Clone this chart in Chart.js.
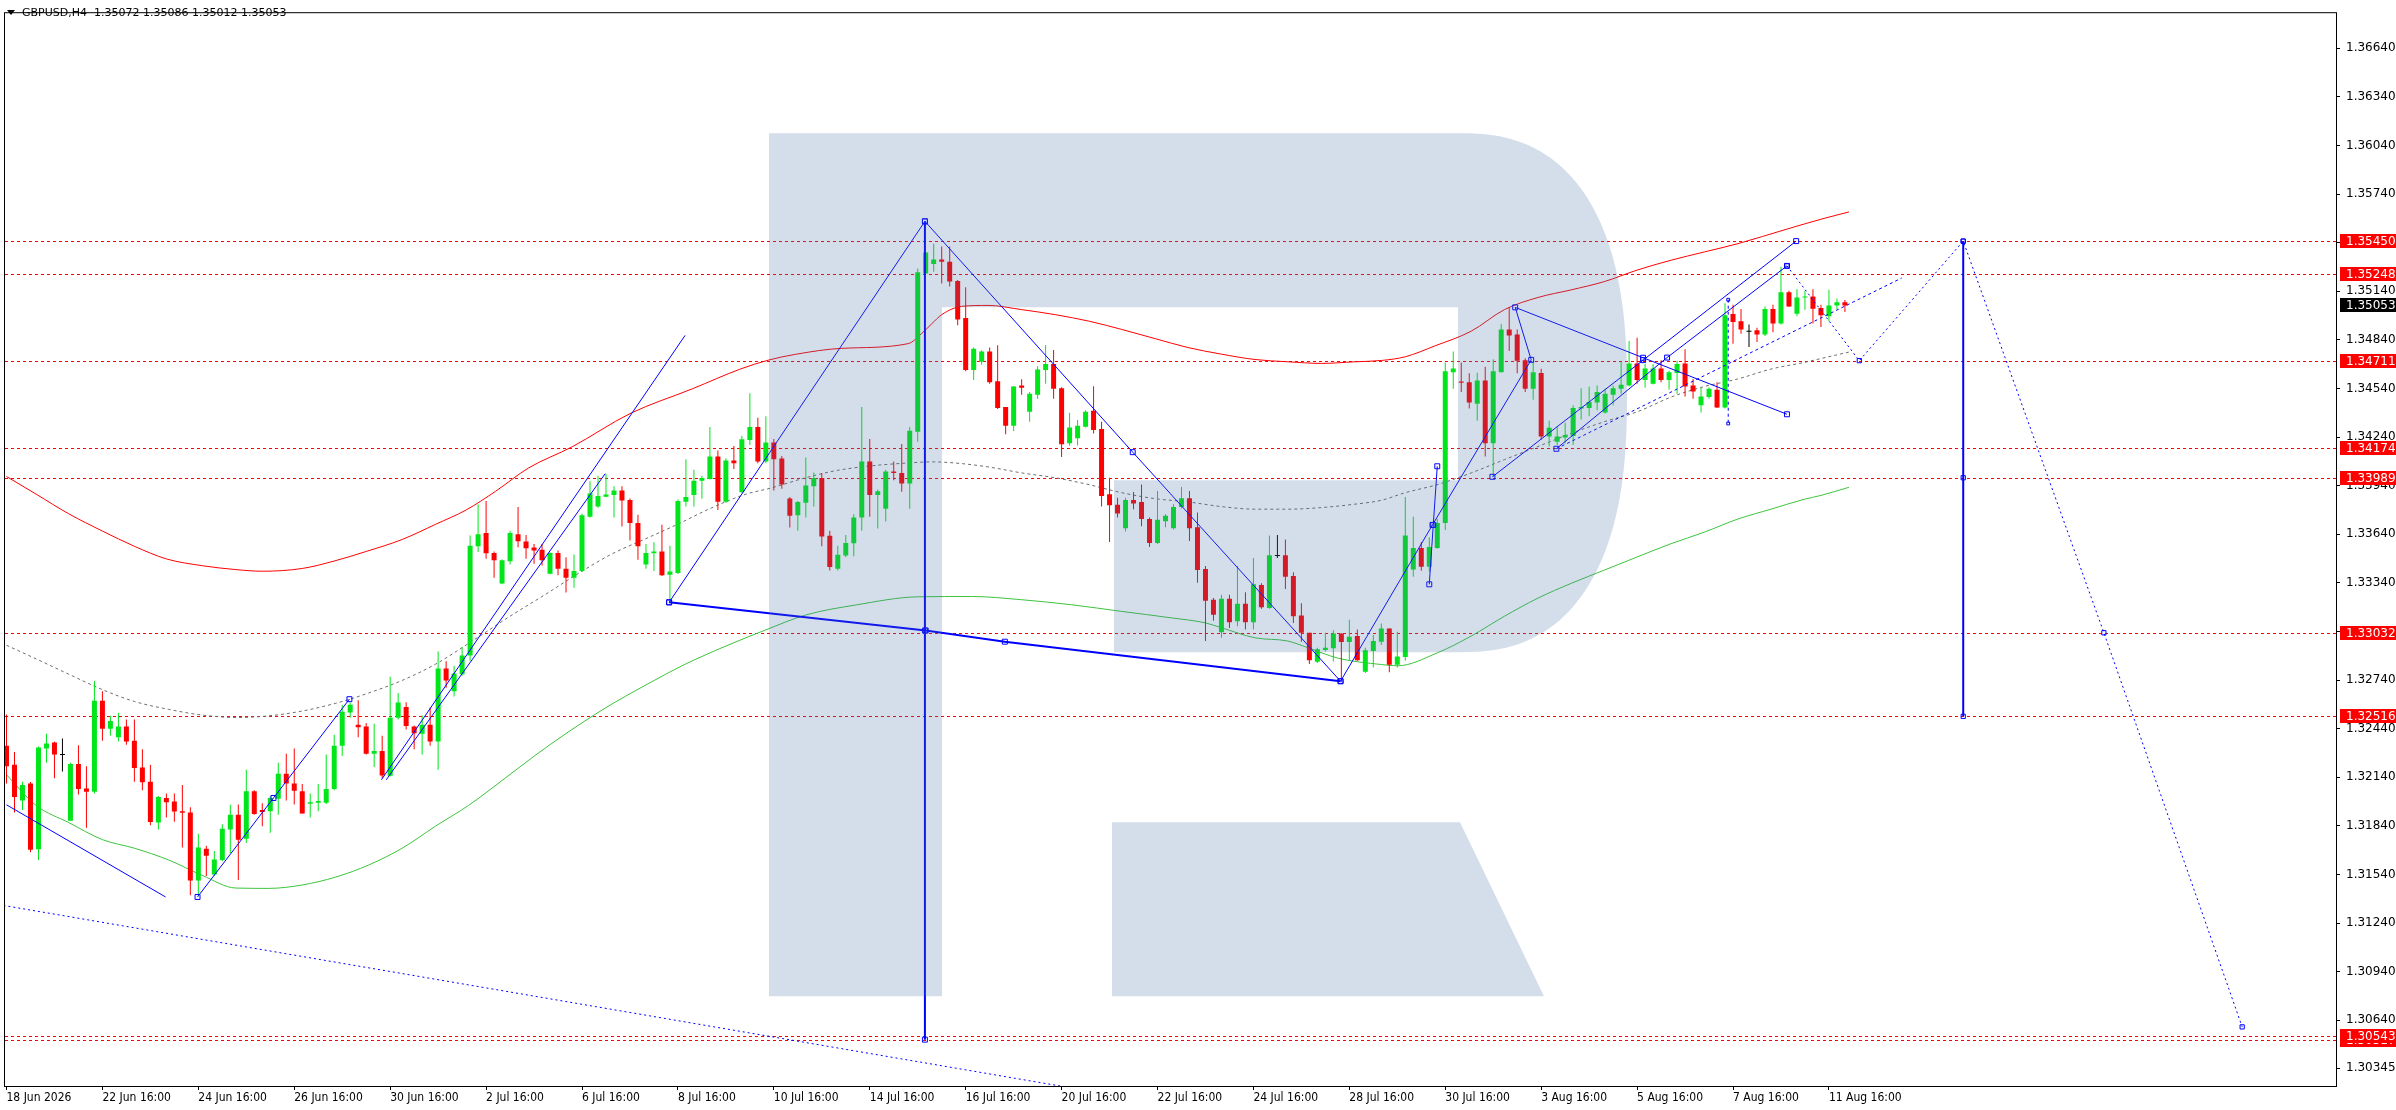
<!DOCTYPE html>
<html>
<head>
<meta charset="utf-8">
<script src="https://cdn.jsdelivr.net/npm/chart.js@4.4.1/dist/chart.umd.min.js"></script>
<style>
  html, body { margin: 0; padding: 0; background: #fff; }
  #wrap { position: relative; width: 2396px; height: 1110px; }
  #hdr { position: absolute; left: 22px; top: 6px; font: 11px "DejaVu Sans", sans-serif; color: #000; white-space: pre; line-height: 13px; }
  #tri { position: absolute; left: 7px; top: 10px; width: 0; height: 0; border-left: 4px solid transparent; border-right: 4px solid transparent; border-top: 5px solid #000; }
</style>
</head>
<body>
<div id="wrap">
  <canvas id="chart" width="2396" height="1110"></canvas>
  <div id="tri"></div>
  <div id="hdr">GBPUSD,H4  1.35072 1.35086 1.35012 1.35053</div>
</div>
<script>
// GBPUSD H4, bar 0 = 18 Jun 16:00
const opens = [
  1.32334, 1.32218, 1.31997, 1.32102, 1.31696, 1.32317, 1.32355, 1.32277, 1.31871, 1.32222,
  1.32071, 1.32050, 1.32612, 1.32439, 1.32387, 1.32454, 1.32366, 1.32201, 1.32113, 1.31860,
  1.32012, 1.31991, 1.31930, 1.31923, 1.31502, 1.31698, 1.31540, 1.31629, 1.31818, 1.31909,
  1.31761, 1.32054, 1.31938, 1.31930, 1.32008, 1.32161, 1.32102, 1.32054, 1.31976, 1.31982,
  1.31982, 1.32067, 1.32334, 1.32540, 1.32464, 1.32454, 1.32285, 1.32302, 1.32149, 1.32507,
  1.32574, 1.32454, 1.32408, 1.32464, 1.32361, 1.32812, 1.32671, 1.32776, 1.32892, 1.33566,
  1.33648, 1.33525, 1.33336, 1.33474, 1.33641, 1.33595, 1.33558, 1.33544, 1.33397, 1.33525,
  1.33428, 1.33371, 1.33413, 1.33749, 1.33811, 1.33872, 1.33882, 1.33910, 1.33851, 1.33709,
  1.33454, 1.33523, 1.33534, 1.33391, 1.33401, 1.33841, 1.33882, 1.33971, 1.33982, 1.34120,
  1.33841, 1.34096, 1.33900, 1.34222, 1.34303, 1.34090, 1.34206, 1.34108, 1.33861, 1.33758,
  1.33835, 1.33937, 1.33988, 1.33631, 1.33428, 1.33509, 1.33585, 1.33743, 1.34090, 1.33882,
  1.33798, 1.34028, 1.34018, 1.33953, 1.34273, 1.35250, 1.35308, 1.35336, 1.35322, 1.35204,
  1.34976, 1.34654, 1.34705, 1.34768, 1.34585, 1.34426, 1.34310, 1.34558, 1.34396, 1.34501,
  1.34654, 1.34691, 1.34542, 1.34202, 1.34233, 1.34304, 1.34402, 1.34290, 1.33887, 1.33822,
  1.33677, 1.33852, 1.33840, 1.33734, 1.33586, 1.33720, 1.33677, 1.33809, 1.33862, 1.33683,
  1.33425, 1.33236, 1.33036, 1.33242, 1.33103, 1.33211, 1.33097, 1.33327, 1.33185, 1.33506,
  1.33510, 1.33382, 1.33138, 1.33032, 1.32853, 1.32926, 1.32936, 1.33028, 1.32975, 1.33012,
  1.32792, 1.32920, 1.32977, 1.33058, 1.32835, 1.32883, 1.33423, 1.33555, 1.33439, 1.33555,
  1.33710, 1.34640, 1.34583, 1.34579, 1.34446, 1.34589, 1.34202, 1.34640, 1.34905, 1.34874,
  1.34715, 1.34538, 1.34636, 1.34243, 1.34212, 1.34237, 1.34247, 1.34416, 1.34420, 1.34453,
  1.34392, 1.34501, 1.34538, 1.34558, 1.34695, 1.34593, 1.34569, 1.34664, 1.34593, 1.34636,
  1.34695, 1.34558, 1.34436, 1.34487, 1.34532, 1.34422, 1.35000, 1.34955, 1.34890, 1.34900,
  1.34874, 1.35031, 1.34941, 1.35134, 1.35002, 1.35102, 1.35108, 1.35037, 1.34986, 1.35053,
  1.35072
];
const highs = [
  1.32528, 1.32296, 1.32113, 1.32111, 1.32330, 1.32408, 1.32359, 1.32380, 1.32229, 1.32338,
  1.32208, 1.32734, 1.32671, 1.32519, 1.32538, 1.32496, 1.32496, 1.32313, 1.32218, 1.32024,
  1.32039, 1.32039, 1.32092, 1.31955, 1.31791, 1.31717, 1.31685, 1.31850, 1.31970, 1.31972,
  1.32187, 1.32060, 1.31980, 1.32022, 1.32229, 1.32285, 1.32317, 1.32098, 1.32039, 1.32098,
  1.32281, 1.32403, 1.32587, 1.32601, 1.32616, 1.32475, 1.32471, 1.32397, 1.32761, 1.32660,
  1.32603, 1.32460, 1.32523, 1.32570, 1.32917, 1.32856, 1.32829, 1.32944, 1.33633, 1.33825,
  1.33845, 1.33534, 1.33485, 1.33662, 1.33809, 1.33635, 1.33580, 1.33580, 1.33529, 1.33540,
  1.33499, 1.33515, 1.33768, 1.33967, 1.34002, 1.34014, 1.33937, 1.33937, 1.33861, 1.33760,
  1.33580, 1.33591, 1.33699, 1.33570, 1.33855, 1.34104, 1.34039, 1.34002, 1.34303, 1.34157,
  1.34110, 1.34185, 1.34248, 1.34511, 1.34360, 1.34369, 1.34228, 1.34124, 1.33870, 1.33845,
  1.34114, 1.34022, 1.34018, 1.33662, 1.33570, 1.33635, 1.33764, 1.34426, 1.34228, 1.33916,
  1.34039, 1.34090, 1.34198, 1.34303, 1.35281, 1.35383, 1.35434, 1.35417, 1.35417, 1.35210,
  1.35165, 1.34793, 1.34776, 1.34793, 1.34807, 1.34426, 1.34556, 1.34597, 1.34518, 1.34677,
  1.34809, 1.34778, 1.34548, 1.34390, 1.34345, 1.34406, 1.34554, 1.34335, 1.33989, 1.33866,
  1.33866, 1.33901, 1.33948, 1.33744, 1.33907, 1.33764, 1.33826, 1.33932, 1.33907, 1.33775,
  1.33445, 1.33246, 1.33266, 1.33266, 1.33445, 1.33282, 1.33494, 1.33337, 1.33632, 1.33636,
  1.33608, 1.33405, 1.33215, 1.33032, 1.32940, 1.33032, 1.33048, 1.33028, 1.33113, 1.33052,
  1.32940, 1.33018, 1.33089, 1.33058, 1.33038, 1.33871, 1.33748, 1.33592, 1.33622, 1.33734,
  1.34701, 1.34768, 1.34701, 1.34634, 1.34638, 1.34675, 1.34721, 1.34939, 1.35041, 1.34905,
  1.34727, 1.34711, 1.34662, 1.34341, 1.34304, 1.34329, 1.34436, 1.34542, 1.34552, 1.34558,
  1.34538, 1.34558, 1.34705, 1.34833, 1.34854, 1.34691, 1.34691, 1.34715, 1.34650, 1.34711,
  1.34782, 1.34599, 1.34544, 1.34548, 1.34579, 1.35067, 1.35057, 1.35031, 1.34935, 1.34915,
  1.35047, 1.35057, 1.35291, 1.35143, 1.35153, 1.35143, 1.35153, 1.35057, 1.35149, 1.35095,
  1.35086
];
const lows = [
  1.32102, 1.31923, 1.31938, 1.31677, 1.31629, 1.32229, 1.32134, 1.32176, 1.31871, 1.32033,
  1.31829, 1.32040, 1.32366, 1.32397, 1.32361, 1.32340, 1.32113, 1.32060, 1.31843, 1.31818,
  1.31892, 1.31866, 1.31707, 1.31412, 1.31408, 1.31530, 1.31530, 1.31622, 1.31671, 1.31506,
  1.31734, 1.31909, 1.31837, 1.31797, 1.31909, 1.31997, 1.31972, 1.31917, 1.31892, 1.31930,
  1.31975, 1.32060, 1.32271, 1.32507, 1.32387, 1.32280, 1.32203, 1.32134, 1.32145, 1.32496,
  1.32435, 1.32313, 1.32281, 1.32334, 1.32187, 1.32692, 1.32639, 1.32766, 1.32860, 1.33530,
  1.33489, 1.33371, 1.33332, 1.33454, 1.33560, 1.33489, 1.33458, 1.33448, 1.33393, 1.33387,
  1.33281, 1.33310, 1.33407, 1.33743, 1.33804, 1.33870, 1.33743, 1.33688, 1.33601, 1.33483,
  1.33428, 1.33413, 1.33383, 1.33224, 1.33395, 1.33811, 1.33811, 1.33859, 1.33978, 1.33790,
  1.33835, 1.34043, 1.33896, 1.34191, 1.34079, 1.34079, 1.33910, 1.33921, 1.33682, 1.33662,
  1.33743, 1.33811, 1.33566, 1.33417, 1.33417, 1.33499, 1.33505, 1.33662, 1.33749, 1.33676,
  1.33719, 1.33973, 1.33902, 1.33798, 1.34212, 1.35245, 1.35261, 1.35189, 1.35169, 1.34931,
  1.34646, 1.34593, 1.34687, 1.34569, 1.34414, 1.34257, 1.34278, 1.34501, 1.34335, 1.34477,
  1.34569, 1.34477, 1.34117, 1.34186, 1.34188, 1.34300, 1.34263, 1.33812, 1.33592, 1.33744,
  1.33657, 1.33795, 1.33689, 1.33561, 1.33580, 1.33683, 1.33669, 1.33799, 1.33598, 1.33341,
  1.32981, 1.33107, 1.33001, 1.33062, 1.33073, 1.33052, 1.33052, 1.33180, 1.33180, 1.33493,
  1.33303, 1.33093, 1.32977, 1.32839, 1.32845, 1.32916, 1.32855, 1.32727, 1.32859, 1.32859,
  1.32784, 1.32818, 1.32957, 1.32788, 1.32818, 1.32859, 1.33378, 1.33415, 1.33409, 1.33550,
  1.33667, 1.34538, 1.34518, 1.34416, 1.34341, 1.34121, 1.33995, 1.34640, 1.34772, 1.34634,
  1.34518, 1.34471, 1.34223, 1.34182, 1.34192, 1.34202, 1.34192, 1.34349, 1.34369, 1.34406,
  1.34385, 1.34436, 1.34508, 1.34552, 1.34569, 1.34544, 1.34565, 1.34579, 1.34534, 1.34508,
  1.34491, 1.34477, 1.34392, 1.34477, 1.34420, 1.34416, 1.34817, 1.34878, 1.34797, 1.34827,
  1.34864, 1.34888, 1.34935, 1.35043, 1.34986, 1.35027, 1.34941, 1.34919, 1.34955, 1.35030,
  1.35012
];
const closes = [
  1.32208, 1.32018, 1.32092, 1.31692, 1.32323, 1.32349, 1.32281, 1.32277, 1.32222, 1.32067,
  1.32050, 1.32612, 1.32439, 1.32488, 1.32454, 1.32361, 1.32197, 1.32109, 1.31864, 1.32018,
  1.31986, 1.31928, 1.31921, 1.31502, 1.31707, 1.31656, 1.31633, 1.31822, 1.31909, 1.31755,
  1.32054, 1.31913, 1.31926, 1.32012, 1.32161, 1.32102, 1.32056, 1.31917, 1.31986, 1.31993,
  1.32067, 1.32334, 1.32544, 1.32587, 1.32448, 1.32285, 1.32302, 1.32151, 1.32507, 1.32601,
  1.32456, 1.32412, 1.32464, 1.32361, 1.32812, 1.32738, 1.32780, 1.32892, 1.33570, 1.33641,
  1.33523, 1.33479, 1.33479, 1.33648, 1.33597, 1.33554, 1.33540, 1.33479, 1.33525, 1.33428,
  1.33371, 1.33413, 1.33758, 1.33892, 1.33876, 1.33886, 1.33910, 1.33849, 1.33709, 1.33566,
  1.33525, 1.33534, 1.33387, 1.33411, 1.33845, 1.33870, 1.33971, 1.33988, 1.34120, 1.33841,
  1.34096, 1.34079, 1.34226, 1.34303, 1.34090, 1.34206, 1.34104, 1.33947, 1.33754, 1.33839,
  1.33941, 1.33988, 1.33627, 1.33438, 1.33513, 1.33587, 1.33743, 1.34090, 1.33882, 1.33906,
  1.34028, 1.34018, 1.33953, 1.34279, 1.35257, 1.35379, 1.35336, 1.35322, 1.35200, 1.34966,
  1.34654, 1.34786, 1.34768, 1.34579, 1.34420, 1.34310, 1.34552, 1.34544, 1.34508, 1.34658,
  1.34691, 1.34538, 1.34196, 1.34300, 1.34310, 1.34396, 1.34284, 1.33877, 1.33820, 1.33769,
  1.33852, 1.33830, 1.33734, 1.33586, 1.33730, 1.33754, 1.33809, 1.33862, 1.33677, 1.33419,
  1.33229, 1.33144, 1.33242, 1.33097, 1.33211, 1.33097, 1.33331, 1.33189, 1.33510, 1.33506,
  1.33378, 1.33134, 1.33032, 1.32863, 1.32930, 1.32940, 1.33028, 1.32975, 1.33008, 1.32863,
  1.32924, 1.32981, 1.33058, 1.32835, 1.32885, 1.33632, 1.33555, 1.33439, 1.33561, 1.33710,
  1.34646, 1.34664, 1.34575, 1.34453, 1.34589, 1.34202, 1.34646, 1.34905, 1.34868, 1.34711,
  1.34538, 1.34640, 1.34243, 1.34298, 1.34243, 1.34253, 1.34420, 1.34426, 1.34457, 1.34518,
  1.34508, 1.34542, 1.34563, 1.34695, 1.34593, 1.34664, 1.34664, 1.34593, 1.34640, 1.34691,
  1.34552, 1.34522, 1.34491, 1.34538, 1.34422, 1.34992, 1.34951, 1.34905, 1.34890, 1.34874,
  1.35031, 1.34941, 1.35134, 1.35047, 1.35102, 1.35108, 1.35033, 1.34992, 1.35053, 1.35072,
  1.35053
];

// time axis labels, one every 12 bars
const timeIdx = [0, 12, 24, 36, 48, 60, 72, 84, 96, 108, 120, 132, 144, 156, 168, 180, 192, 204, 216, 228];
const timeLabels = ['18 Jun 2026', '22 Jun 16:00', '24 Jun 16:00', '26 Jun 16:00', '30 Jun 16:00', '2 Jul 16:00',
  '6 Jul 16:00', '8 Jul 16:00', '10 Jul 16:00', '14 Jul 16:00', '16 Jul 16:00', '20 Jul 16:00', '22 Jul 16:00',
  '24 Jul 16:00', '28 Jul 16:00', '30 Jul 16:00', '3 Aug 16:00', '5 Aug 16:00', '7 Aug 16:00', '11 Aug 16:00'];

const priceTicks = [1.36640, 1.36340, 1.36040, 1.35740, 1.35440, 1.35140, 1.34840, 1.34540, 1.34240, 1.33940, 1.33640,
  1.33340, 1.33040, 1.32740, 1.32440, 1.32140, 1.31840, 1.31540, 1.31240, 1.30940, 1.30640, 1.30345];
const levelPrices = [1.35450, 1.35248, 1.34711, 1.34174, 1.33989, 1.33032, 1.32516, 1.30517, 1.30543];
const lastPrice = 1.35053;

// moving average envelope, read as [bar, price]
const maUpper = [[0,1.33997],[3.7,1.33888],[7.8,1.33766],[12,1.33660],[16,1.33566],[20,1.33488],[24.5,1.33446],
  [28.7,1.33422],[32,1.33412],[37,1.33429],[41,1.33475],[45,1.33534],[49.5,1.33608],[53.7,1.33702],[57.5,1.33790],
  [61.2,1.33906],[65.3,1.34049],[70.8,1.34181],[78,1.34385],[85.8,1.34538],[91.8,1.34660],[95.3,1.34715],[98.7,1.34751],
  [104.5,1.34788],[112.8,1.34817],[114.5,1.34880],[115.75,1.34939],[117,1.34996],[119.5,1.35047],[122.8,1.35053],
  [127,1.35027],[131.2,1.34996],[135.5,1.34955],[139.5,1.34905],[143.7,1.34848],[147.8,1.34793],[152,1.34752],
  [156.2,1.34719],[160.3,1.34705],[164.5,1.34695],[168.7,1.34705],[172,1.34713],[175,1.34736],[178.7,1.34803],
  [183.25,1.34894],[187.4,1.35027],[191.6,1.35102],[195.75,1.35149],[199.9,1.35200],[204,1.35271],[208.25,1.35332],
  [212.4,1.35383],[216.6,1.35434],[222.8,1.35525],[227,1.35585],[230.5,1.35630]];
const maMiddle = [[0,1.32955],[3.7,1.32871],[7.8,1.32776],[12,1.32681],[16,1.32608],[20.3,1.32559],[24.5,1.32524],
  [28.7,1.32509],[32.8,1.32519],[37,1.32549],[41.2,1.32597],[45.3,1.32660],[49.5,1.32738],[53.7,1.32839],[57.8,1.32966],
  [63.25,1.33142],[67.3,1.33265],[71.5,1.33397],[75.75,1.33519],[79.9,1.33611],[84,1.33703],[88.25,1.33804],
  [92.4,1.33886],[95.75,1.33927],[99.9,1.33988],[104,1.34035],[108.25,1.34063],[112.4,1.34079],[115.75,1.34087],
  [118.7,1.34080],[122.8,1.34056],[127,1.34019],[131.2,1.33989],[135.3,1.33948],[139.5,1.33897],[143.7,1.33860],
  [147.8,1.33840],[152,1.33811],[156.2,1.33795],[160.3,1.33795],[164.5,1.33805],[168.7,1.33826],[172,1.33850],
  [175,1.33897],[179.1,1.33948],[183.25,1.34019],[187.4,1.34101],[191.6,1.34182],[195.75,1.34263],[199.9,1.34335],
  [204,1.34396],[208.25,1.34487],[212.4,1.34552],[216.6,1.34599],[220.75,1.34660],[224.9,1.34701],[227,1.34725],
  [230.5,1.34765]];
const maLower = [[0,1.32155],[3.7,1.31966],[7.8,1.31860],[12,1.31755],[16,1.31702],[20.3,1.31629],[24.5,1.31534],
  [28.7,1.31456],[32.8,1.31454],[37,1.31475],[41.2,1.31524],[45.3,1.31598],[49.5,1.31702],[53.7,1.31839],[57.8,1.31966],
  [62,1.32120],[66,1.32270],[70,1.32410],[75,1.32570],[80,1.32710],[85,1.32840],[90,1.32950],[95,1.33050],
  [100,1.33142],[106.3,1.33204],[114,1.33254],[120.75,1.33256],[127,1.33236],[133.25,1.33205],[139.5,1.33164],
  [145.75,1.33124],[150,1.33093],[152,1.33063],[156.2,1.33001],[160.3,1.32981],[162.8,1.32940],[166.6,1.32875],
  [172,1.32836],[174,1.32828],[179.1,1.32910],[183.25,1.33012],[187.4,1.33134],[191.6,1.33246],[195.75,1.33337],
  [199.9,1.33419],[204,1.33500],[208.25,1.33582],[212.4,1.33653],[216.6,1.33734],[220.75,1.33795],[224.9,1.33856],
  [227,1.33880],[230.5,1.33930]];

// analysis drawings, [bar, price]
const wave1 = [[0,1.31970],[19.9,1.31401]];
const wave2 = [[23.9,1.31401],[33.4,1.32012],[42.9,1.32622]];
const channelA = [[46.9,1.32124],[84.9,1.34868]];
const channelB = [[47.5,1.32124],[74.9,1.34014]];
const zigzag = [[82.9,1.33220],[114.9,1.35572],[140.9,1.34147],[166.9,1.32733],[178.4,1.33698],[190.75,1.34717],
  [188.75,1.35041],[204.75,1.34730],[222.75,1.34381]];
const baseLine = [[82.9,1.33220],[115,1.33046],[124.9,1.32977],[166.9,1.32733]];
const targetDown = [[114.9,1.35572],[114.9,1.33046],[114.9,1.30520]];
const longDotted = [[-1,1.31354],[140,1.30165]];
const smallLeg = [[178,1.33331],[178.5,1.33698],[179,1.34060]];
const channelUp = [[185.9,1.33995],[204.75,1.34715],[223.9,1.35450]];
const channelUp2 = [[193.9,1.34168],[207.75,1.34731],[222.75,1.35297]];
const dashedUp = [[193.9,1.34168],[237.1,1.35222]];
const forecast = [[222.75,1.35297],[231.8,1.34712],[244.8,1.35450],[262.4,1.33032],[279.7,1.30599]];
const targetBar = [[244.8,1.35450],[244.8,1.33989],[244.8,1.32516]];
const dashedBar = [[215.4,1.35088],[215.4,1.34324]];

const bull = '#00e61a', bear = '#ff0000', flat = '#000000';
const idx = opens.map((_, i) => i);
const candleColor = idx.map(i => closes[i] > opens[i] ? bull : (closes[i] < opens[i] ? bear : flat));
const toXY = arr => arr.map(([x, y]) => ({ x, y }));

function blueLine(pts, extra) {
  return Object.assign({
    type: 'line', data: toXY(pts), borderColor: '#0000ff', borderWidth: 1,
    pointRadius: 0, pointStyle: 'rect', pointBorderColor: '#0000ff',
    pointBackgroundColor: 'rgba(255,255,255,0)', pointBorderWidth: 1,
    tension: 0, fill: false, order: 1
  }, extra);
}
function maLine(pts, color, dash) {
  return {
    type: 'line', data: toXY(pts), borderColor: color, borderWidth: 1, borderDash: dash || [],
    pointRadius: 0, cubicInterpolationMode: 'monotone', fill: false, order: 6
  };
}

const uiFont = '"DejaVu Sans", sans-serif';

const levelsPlugin = {
  id: 'levels',
  beforeDatasetsDraw(chart) {
    const { ctx, chartArea: ca, scales: { y } } = chart;
    ctx.save();
    ctx.beginPath(); ctx.rect(ca.left, ca.top, ca.width, ca.height); ctx.clip();
    ctx.strokeStyle = '#ff0000'; ctx.lineWidth = 1; ctx.setLineDash([3, 3]);
    levelPrices.forEach(p => {
      const py = Math.round(y.getPixelForValue(p)) + 0.5;
      ctx.beginPath(); ctx.moveTo(ca.left, py); ctx.lineTo(ca.right, py); ctx.stroke();
    });
    ctx.restore();
  },
  afterDatasetsDraw(chart) {
    // faint logo watermark laid over the plot
    const { ctx, chartArea: ca } = chart;
    const L = ca.left, T = ca.top;
    ctx.save();
    ctx.beginPath(); ctx.rect(ca.left, ca.top, ca.width, ca.height); ctx.clip();
    ctx.beginPath();
    ctx.rect(L + 764, T + 120, 173, 863);
    ctx.rect(L + 937, T + 120, 516, 174);
    ctx.rect(L + 1109, T + 467, 344, 172);
    const cx = L + 1453, cy = T + 379.5, rx = 169, ry = 259.5, n = 2.5;
    ctx.moveTo(cx, cy - ry);
    for (let a = -90; a <= 90; a += 2) {
      const t = a * Math.PI / 180, c = Math.cos(t), s = Math.sin(t);
      ctx.lineTo(cx + rx * Math.sign(c) * Math.pow(Math.abs(c), 2 / n), cy + ry * Math.sign(s) * Math.pow(Math.abs(s), 2 / n));
    }
    ctx.closePath();
    ctx.moveTo(L + 1107, T + 809); ctx.lineTo(L + 1455, T + 809); ctx.lineTo(L + 1539, T + 983); ctx.lineTo(L + 1107, T + 983);
    ctx.closePath();
    ctx.fillStyle = 'rgba(70,114,167,0.23)';
    ctx.fill();
    ctx.restore();
  },
  afterDraw(chart) {
    const { ctx, chartArea: ca, scales: { y } } = chart;
    ctx.save();
    ctx.strokeStyle = '#000'; ctx.lineWidth = 1;
    ctx.strokeRect(ca.left - 0.5, ca.top - 0.5, ca.width + 1, ca.height + 1);
    ctx.font = '12px ' + uiFont; ctx.textBaseline = 'middle'; ctx.textAlign = 'left';
    const box = (p, bg) => {
      const py = Math.round(y.getPixelForValue(p));
      ctx.fillStyle = bg;
      ctx.fillRect(ca.right + 4, py - 7, chart.width - ca.right - 4, 14);
      ctx.fillStyle = '#fff';
      ctx.fillText(p.toFixed(5), ca.right + 10, py + 0.5);
    };
    levelPrices.forEach(p => box(p, '#ff0000'));
    box(lastPrice, '#000000');
    ctx.restore();
  }
};

new Chart(document.getElementById('chart'), {
  type: 'bar',
  data: {
    datasets: [
      { type: 'bar', data: idx.map(i => ({ x: i, y: [lows[i], highs[i]] })), backgroundColor: candleColor,
        barThickness: 1, grouped: false, inflateAmount: 0, borderWidth: 0, order: 5 },
      { type: 'bar', data: idx.map(i => ({ x: i, y: [opens[i], closes[i]] })), backgroundColor: candleColor,
        barThickness: 5, minBarLength: 1, grouped: false, inflateAmount: 0, borderWidth: 0, order: 4 },
      maLine(maUpper, '#ff0000'),
      maLine(maMiddle, '#6e6e6e', [3, 3]),
      maLine(maLower, '#3cc43c'),
      blueLine(wave1),
      blueLine(wave2, { pointRadius: 3.5 }),
      blueLine(channelA),
      blueLine(channelB),
      blueLine(zigzag, { pointRadius: 3.5 }),
      blueLine(baseLine, { pointRadius: 3.5, borderWidth: 2 }),
      blueLine(targetDown, { pointRadius: 3.5, borderWidth: 2 }),
      blueLine(longDotted, { borderDash: [2, 3] }),
      blueLine(smallLeg, { pointRadius: 3.5 }),
      blueLine(channelUp, { pointRadius: 3.5 }),
      blueLine(channelUp2, { pointRadius: 3.5 }),
      blueLine(dashedUp, { borderDash: [3, 3] }),
      blueLine(forecast, { pointRadius: 3, borderDash: [2, 3] }),
      blueLine(targetBar, { pointRadius: 3, borderWidth: 2 }),
      blueLine(dashedBar, { pointRadius: 2, borderDash: [3, 3] })
    ]
  },
  options: {
    responsive: false,
    devicePixelRatio: 1,
    animation: false,
    events: [],
    layout: { padding: { left: 3, top: 2, right: 0, bottom: 0 } },
    plugins: { legend: { display: false }, tooltip: { enabled: false }, title: { display: false } },
    scales: {
      x: {
        type: 'linear', min: -0.1875, max: 291.4375, offset: false,
        afterBuildTicks: s => { s.ticks = timeIdx.map(v => ({ value: v })); },
        afterFit: s => { s.height = 24; },
        grid: { drawOnChartArea: false, drawTicks: true, tickLength: 4, color: '#000', offset: false },
        border: { color: '#000' },
        ticks: {
          autoSkip: false, maxRotation: 0, align: 'start', padding: 1, color: '#000',
          font: { family: '"DejaVu Sans Condensed", "Liberation Sans Narrow", "DejaVu Sans", sans-serif', size: 12 },
          callback: (v, k) => timeLabels[k]
        }
      },
      y: {
        type: 'linear', position: 'right', min: 1.30234, max: 1.36857,
        afterBuildTicks: s => { s.ticks = priceTicks.map(v => ({ value: v })); },
        afterFit: s => { s.width = 60; },
        grid: { drawOnChartArea: false, drawTicks: true, tickLength: 4, color: '#000' },
        border: { color: '#000' },
        ticks: {
          autoSkip: false, padding: 6, color: '#000', font: { family: uiFont, size: 12 },
          callback: v => Number(v).toFixed(5)
        }
      }
    }
  },
  plugins: [levelsPlugin]
});
</script>
</body>
</html>
